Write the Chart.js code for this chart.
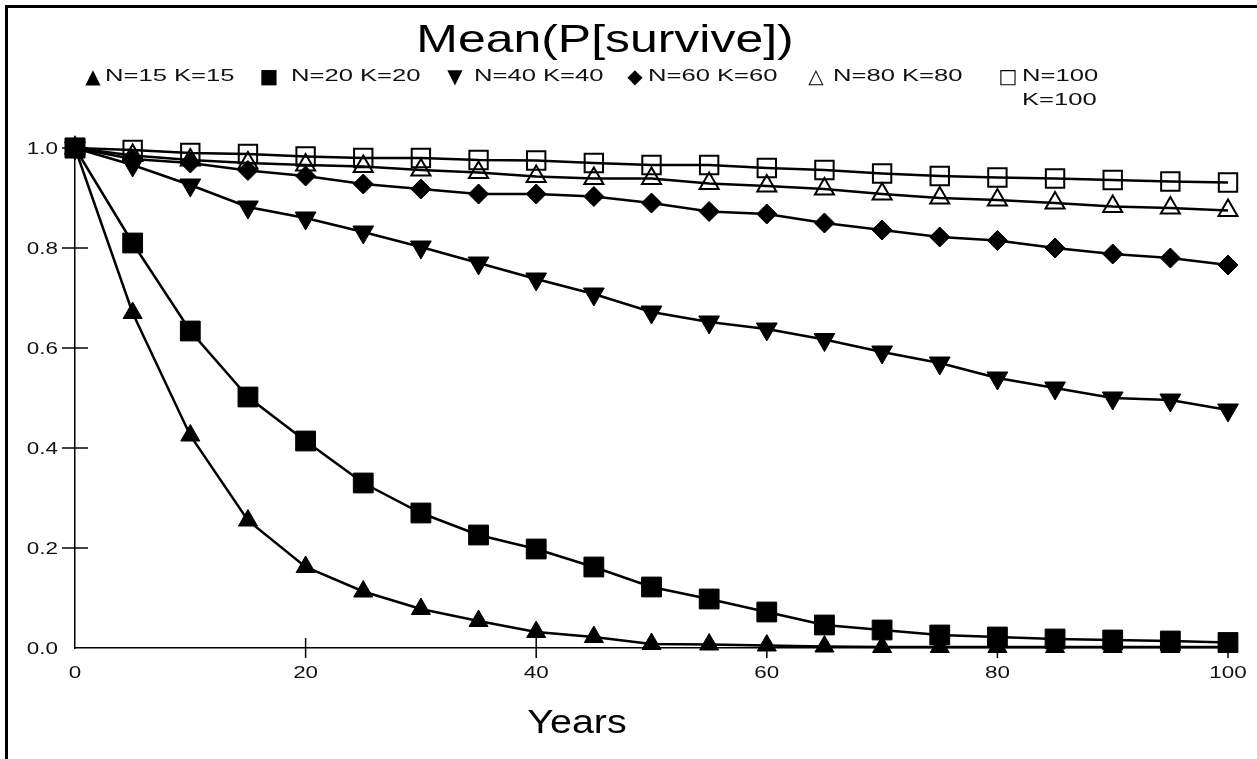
<!DOCTYPE html>
<html>
<head>
<meta charset="utf-8">
<script src="https://cdn.jsdelivr.net/npm/chart.js@4.4.0/dist/chart.umd.min.js"></script>
<style>
  html, body { margin: 0; padding: 0; background: #fff; }
  body { width: 1257px; height: 759px; position: relative; overflow: hidden; font-family: Arial, "Liberation Sans", sans-serif; }
  #frame { position: absolute; left: 5px; top: 5px; width: 1300px; height: 800px; border-left: 3px solid #000; border-top: 3px solid #000; }
  #chart { position: absolute; left: 0; top: 0; }
  .txt { position: absolute; white-space: nowrap; line-height: 1; color: #000; }
  #title { left: 605px; top: 19px; font-size: 39px; transform: translateX(-50%) scaleX(1.28); }
  #xtitle { left: 577px; top: 704px; font-size: 34px; transform: translateX(-50%) scaleX(1.16); }
  .leg { position: absolute; top: 64px; font-size: 16px; line-height: 24px; color: #111; transform-origin: 0 0; transform: scaleX(1.6); }
  .glyph { position: absolute; top: 63px; font-family: "DejaVu Sans", sans-serif; font-size: 20px; line-height: 26px; transform: translateX(-50%); color: #000; }
</style>
</head>
<body>
<div id="frame"></div>
<canvas id="chart" width="1257" height="759"></canvas>
<div id="title" class="txt">Mean(P[survive])</div>
<div id="xtitle" class="txt">Years</div>
<div id="legend"></div>
<script>
// data (mean survival probability every 5 years)
var years = [0, 5, 10, 15, 20, 25, 30, 35, 40, 45, 50, 55, 60, 65, 70, 75, 80, 85, 90, 95, 100];
var n15 = [1.0, 0.67, 0.425, 0.255, 0.162, 0.113, 0.078, 0.054, 0.032, 0.022, 0.008, 0.007, 0.005, 0.003, 0.002, 0.002, 0.002, 0.002, 0.002, 0.002, 0.002];
var n20 = [1.0, 0.81, 0.634, 0.502, 0.414, 0.33, 0.27, 0.226, 0.198, 0.162, 0.122, 0.098, 0.072, 0.046, 0.036, 0.026, 0.022, 0.018, 0.016, 0.014, 0.011];
var n40 = [1.0, 0.966, 0.926, 0.882, 0.86, 0.832, 0.802, 0.77, 0.738, 0.708, 0.672, 0.652, 0.638, 0.617, 0.592, 0.57, 0.54, 0.52, 0.5, 0.496, 0.476];
var n60 = [1.0, 0.978, 0.97, 0.955, 0.944, 0.928, 0.918, 0.908, 0.908, 0.903, 0.89, 0.873, 0.868, 0.85, 0.836, 0.822, 0.815, 0.8, 0.788, 0.78, 0.766];
var n80 = [1.0, 0.985, 0.976, 0.97, 0.966, 0.963, 0.956, 0.951, 0.943, 0.939, 0.939, 0.929, 0.924, 0.918, 0.908, 0.9, 0.896, 0.89, 0.883, 0.88, 0.875];
var n100 = [1.0, 0.996, 0.99, 0.988, 0.983, 0.98, 0.98, 0.976, 0.975, 0.97, 0.966, 0.966, 0.96, 0.956, 0.949, 0.944, 0.941, 0.939, 0.936, 0.933, 0.931];
var seriesNames = ['N=15 K=15', 'N=20 K=20', 'N=40 K=40', 'N=60 K=60', 'N=80 K=80', 'N=100 K=100'];
var xTicks = [0, 20, 40, 60, 80, 100];
var yTicks = [0, 0.2, 0.4, 0.6, 0.8, 1.0];

function pts(vals) {
  return years.map(function (yr, i) { return { x: yr, y: vals[i] }; });
}

// marker look per series
var markers = [
  { style: 'triangle', r: 11, rot: 0, fill: '#000', glyph: '\u25B2' },
  { style: 'rect', r: 14, rot: 0, fill: '#000', glyph: '\u25A0' },
  { style: 'triangle', r: 12, rot: 180, fill: '#000', glyph: '\u25BC' },
  { style: 'rectRot', r: 10, rot: 0, fill: '#000', glyph: '\u25C6' },
  { style: 'triangle', r: 11, rot: 0, fill: 'rgba(0,0,0,0)', glyph: '\u25B3' },
  { style: 'rect', r: 13, rot: 0, fill: 'rgba(0,0,0,0)', glyph: '\u25A1' }
];
var allSeries = [n15, n20, n40, n60, n80, n100];

var datasets = allSeries.map(function (vals, i) {
  var m = markers[i];
  return {
    label: seriesNames[i],
    data: pts(vals),
    borderColor: '#000',
    borderWidth: 2.5,
    tension: 0,
    pointStyle: m.style,
    pointRadius: m.r,
    pointRotation: m.rot,
    pointBackgroundColor: m.fill,
    pointBorderColor: '#000',
    pointBorderWidth: m.fill === '#000' ? 1 : 2,
    clip: false
  };
});

// ticks that cross the axes + stretched tick labels
var axisDecor = {
  id: 'axisDecor',
  beforeDatasetsDraw: function (chart) {
    var ctx = chart.ctx, x = chart.scales.x, y = chart.scales.y;
    ctx.save();
    ctx.strokeStyle = '#000';
    ctx.lineWidth = 1.5;
    xTicks.forEach(function (v) {
      if (v === 0) return;
      var px = x.getPixelForValue(v);
      ctx.beginPath(); ctx.moveTo(px, y.bottom - 10); ctx.lineTo(px, y.bottom + 10); ctx.stroke();
    });
    yTicks.forEach(function (v) {
      if (v === 0) return;
      var py = y.getPixelForValue(v);
      ctx.beginPath(); ctx.moveTo(x.left - 13, py); ctx.lineTo(x.left + 13, py); ctx.stroke();
    });
    ctx.restore();
  },
  afterDraw: function (chart) {
    var ctx = chart.ctx, x = chart.scales.x, y = chart.scales.y;
    ctx.save();
    ctx.fillStyle = '#111';
    ctx.font = '16px Arial, "Liberation Sans", sans-serif';
    ctx.textBaseline = 'alphabetic';
    xTicks.forEach(function (v) {
      ctx.save();
      ctx.translate(x.getPixelForValue(v), y.bottom + 30);
      ctx.scale(1.4, 1);
      ctx.textAlign = 'center';
      ctx.fillText(String(v), 0, 0);
      ctx.restore();
    });
    yTicks.forEach(function (v) {
      ctx.save();
      ctx.translate(x.left - 17, y.getPixelForValue(v) + 6);
      ctx.scale(1.4, 1);
      ctx.textAlign = 'right';
      ctx.fillText(v.toFixed(1), 0, 0);
      ctx.restore();
    });
    ctx.restore();
  }
};

var ctx = document.getElementById('chart').getContext('2d');
var chart = new Chart(ctx, {
  type: 'line',
  data: { datasets: datasets },
  options: {
    responsive: false,
    animation: false,
    layout: { padding: { top: 148, right: 29, bottom: 0, left: 0 } },
    plugins: {
      legend: { display: false },
      title: { display: false },
      tooltip: { enabled: false }
    },
    scales: {
      x: {
        type: 'linear', min: 0, max: 100,
        grid: { display: false, drawTicks: false },
        border: { display: true, color: '#000', width: 1.5 },
        ticks: { display: false },
        afterFit: function (s) { s.height = 111; }
      },
      y: {
        type: 'linear', min: 0, max: 1,
        grid: { display: false, drawTicks: false },
        border: { display: true, color: '#000', width: 1.5 },
        ticks: { display: false },
        afterFit: function (s) { s.width = 75; }
      }
    }
  },
  plugins: [axisDecor]
});

// legend in html, wide text like the original
var legGlyphX = [93, 269, 455, 635, 816, 1008];
var legTextX = [105, 291, 474, 648, 833, 1022];
var legend = document.getElementById('legend');
seriesNames.forEach(function (name, i) {
  var g = document.createElement('span');
  g.className = 'glyph';
  g.style.left = legGlyphX[i] + 'px';
  g.textContent = markers[i].glyph;
  legend.appendChild(g);
  var t = document.createElement('span');
  t.className = 'leg';
  t.style.left = legTextX[i] + 'px';
  if (i === seriesNames.length - 1) { t.style.whiteSpace = 'normal'; t.style.width = '44px'; }
  else { t.style.whiteSpace = 'nowrap'; }
  t.textContent = name;
  legend.appendChild(t);
});
</script>
</body>
</html>
